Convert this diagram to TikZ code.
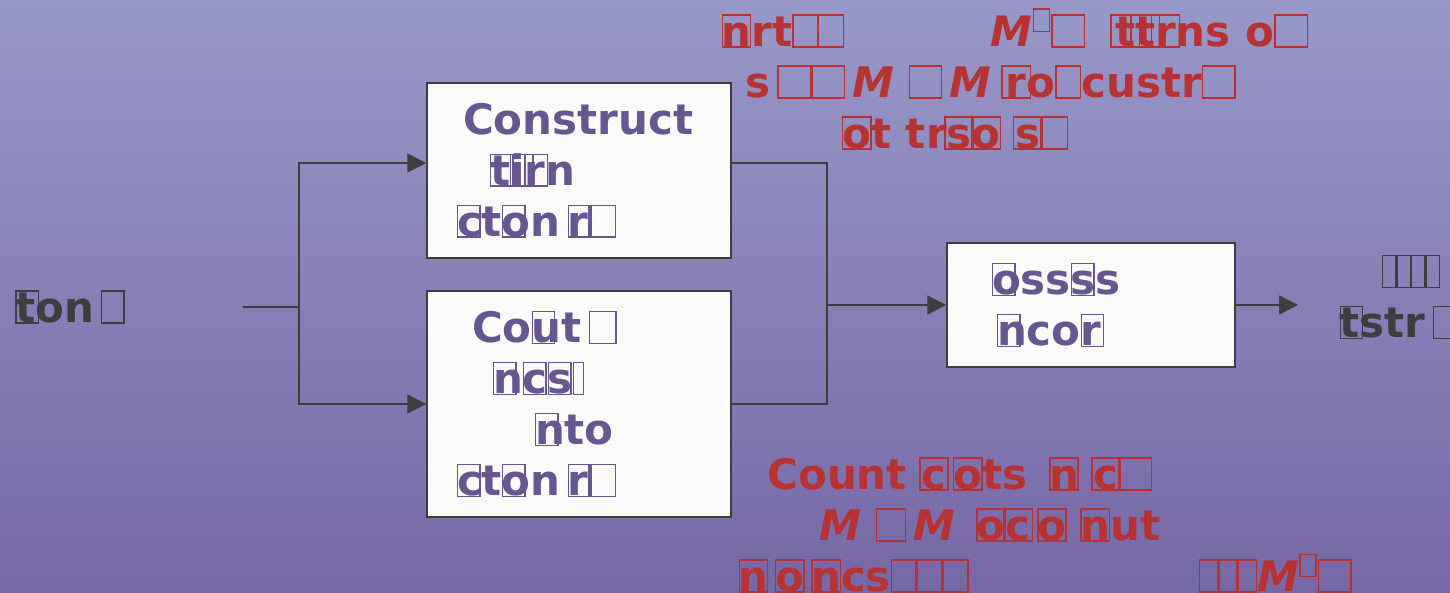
\documentclass[tikz,border=0pt]{standalone}
\usepackage{fontspec}
\setmainfont{DejaVu Sans}
\usepackage{tikz}
\usetikzlibrary{arrows.meta,positioning,calc}
\definecolor{bgtop}{HTML}{9898C8}
\definecolor{bgbottom}{HTML}{7668A6}
\definecolor{boxfill}{HTML}{FAFAF8}
\definecolor{edgegray}{HTML}{3E3E3E}
\definecolor{stagepurple}{HTML}{675791}
\definecolor{notered}{HTML}{B73333}
\newlength{\ovrwd}
\newcommand{\tofu}[1][0.5em]{{\setlength{\fboxsep}{0pt}\setlength{\fboxrule}{0.7pt}\fbox{\rule{0pt}{0.72em}\hspace{#1}}}}
\newcommand{\bigtofu}[1][0.74em]{\tofu[#1]}
\newcommand{\ovr}[1]{\rlap{\tofu}#1}
\newcommand{\rovr}[1]{\settowidth{\ovrwd}{#1}\makebox[0pt][l]{\makebox[\ovrwd]{\tofu[0.64em]}}#1}
\tikzset{
  stagebox/.style={
    draw=edgegray,
    fill=boxfill,
    line width=0.75pt,
    align=left,
    inner xsep=0pt,
    inner ysep=0pt,
    text=stagepurple,
    font=\fontsize{21}{25.5}\selectfont\bfseries
  },
  flowline/.style={-{Triangle[length=9.5pt,width=9.5pt]},line width=0.75pt,draw=edgegray},
  plainline/.style={line width=0.75pt,draw=edgegray},
  notetext/.style={align=left,inner sep=0pt,text=notered,font=\fontsize{21}{25.5}\selectfont\bfseries},
  labeltext/.style={align=center,inner sep=0pt,text=edgegray,font=\fontsize{21}{25.5}\selectfont\bfseries}
}
\begin{document}
\begin{tikzpicture}[x=0.5pt,y=0.5pt]
  \useasboundingbox (0,0) rectangle (1450,-593);
  \shade[top color=bgtop,bottom color=bgbottom] (0,0) rectangle (1450,-593);
  % stages
  \node[stagebox,text width=152pt,minimum height=87.5pt] (build) at (579,-170.5)
    {\hspace*{18pt}Construct\\\hspace*{31.5pt}\ovr{t}\ovr{i}\ovr{r}n\\\hspace*{15pt}\ovr{c}t\ovr{o}n\,\ovr{r}\tofu[0.6em]};
  \node[stagebox,text width=152pt,minimum height=113pt] (count) at (579,-404)
    {\hspace*{22.5pt}Co\ovr{u}t\,\tofu[0.6em]\\\hspace*{33pt}\ovr{n}\ovr{c}\ovr{s}\tofu[0.2em]\\\hspace*{54pt}\ovr{n}to\\\hspace*{15pt}\ovr{c}t\ovr{o}n\,\ovr{r}\tofu[0.6em]};
  \node[stagebox,text width=144pt,minimum height=62pt] (process) at (1091,-305)
    {\hspace*{22.5pt}\ovr{o}ss\ovr{s}s\\\hspace*{25pt}\ovr{n}co\ovr{r}};
  % input and output
  \node[labeltext] (source) at (70,-307) {\ovr{t}on\,\tofu};
  \node[labeltext] (result) at (1398,-297) {\hspace*{13pt}\tofu[0.28em]\tofu[0.28em]\tofu[0.28em]\tofu[0.28em]\\\ovr{t}str\,\tofu};
  \coordinate (instart) at (243,-307);
  \coordinate (fork) at (299,-307);
  \coordinate (merge) at (827,-305);
  \coordinate (outend) at (1298,-305);
  \draw[plainline] (instart) -- (fork);
  \draw[flowline] (fork) |- ([yshift=3.75pt]build.west);
  \draw[flowline] (fork) |- (count.west);
  \draw[plainline] ([yshift=3.75pt]build.east) -| (merge);
  \draw[plainline] (count.east) -| (merge);
  \draw[flowline] (merge) -- (process.west);
  \draw[flowline] (process.east) -- (outend);
  % notes
  \node[notetext,anchor=west] (topnote) at (721,-79)
    {\rovr{n}rt\tofu[0.55em]\tofu[0.55em]\hspace{73.5pt}\textit{M}\textsuperscript{\tofu}\bigtofu\hspace{15pt}\rovr{t}\rovr{t}\rovr{r}ns o\bigtofu\\
     \hspace*{12pt}s\,\bigtofu\bigtofu\,\textit{M} \bigtofu\,\textit{M} \rovr{r}o\tofu[0.55em]custr\bigtofu\\
     \hspace*{60.5pt}\rovr{o}t tr\rovr{s}\rovr{o} \rovr{s}\bigtofu[0.6em]};
  \node[notetext,anchor=west] (bottomnote) at (738,-525)
    {\hspace*{14.5pt}Count \rovr{c}\,\rovr{o}ts \,\rovr{n}\ \rovr{c}\bigtofu\\
     \hspace*{40.5pt}\textit{M} \bigtofu[0.66em]\,\textit{M}\ \,\rovr{o}\rovr{c}\,\rovr{o}\,\,\rovr{n}ut\\
     \rovr{n}\,\rovr{o}\,\rovr{n}cs\tofu[0.55em]\tofu[0.55em]\tofu[0.55em]\hspace{115pt}\tofu[0.4em]\tofu[0.4em]\tofu[0.4em]\textit{M}\textsuperscript{\tofu}\bigtofu};
\end{tikzpicture}
\end{document}
